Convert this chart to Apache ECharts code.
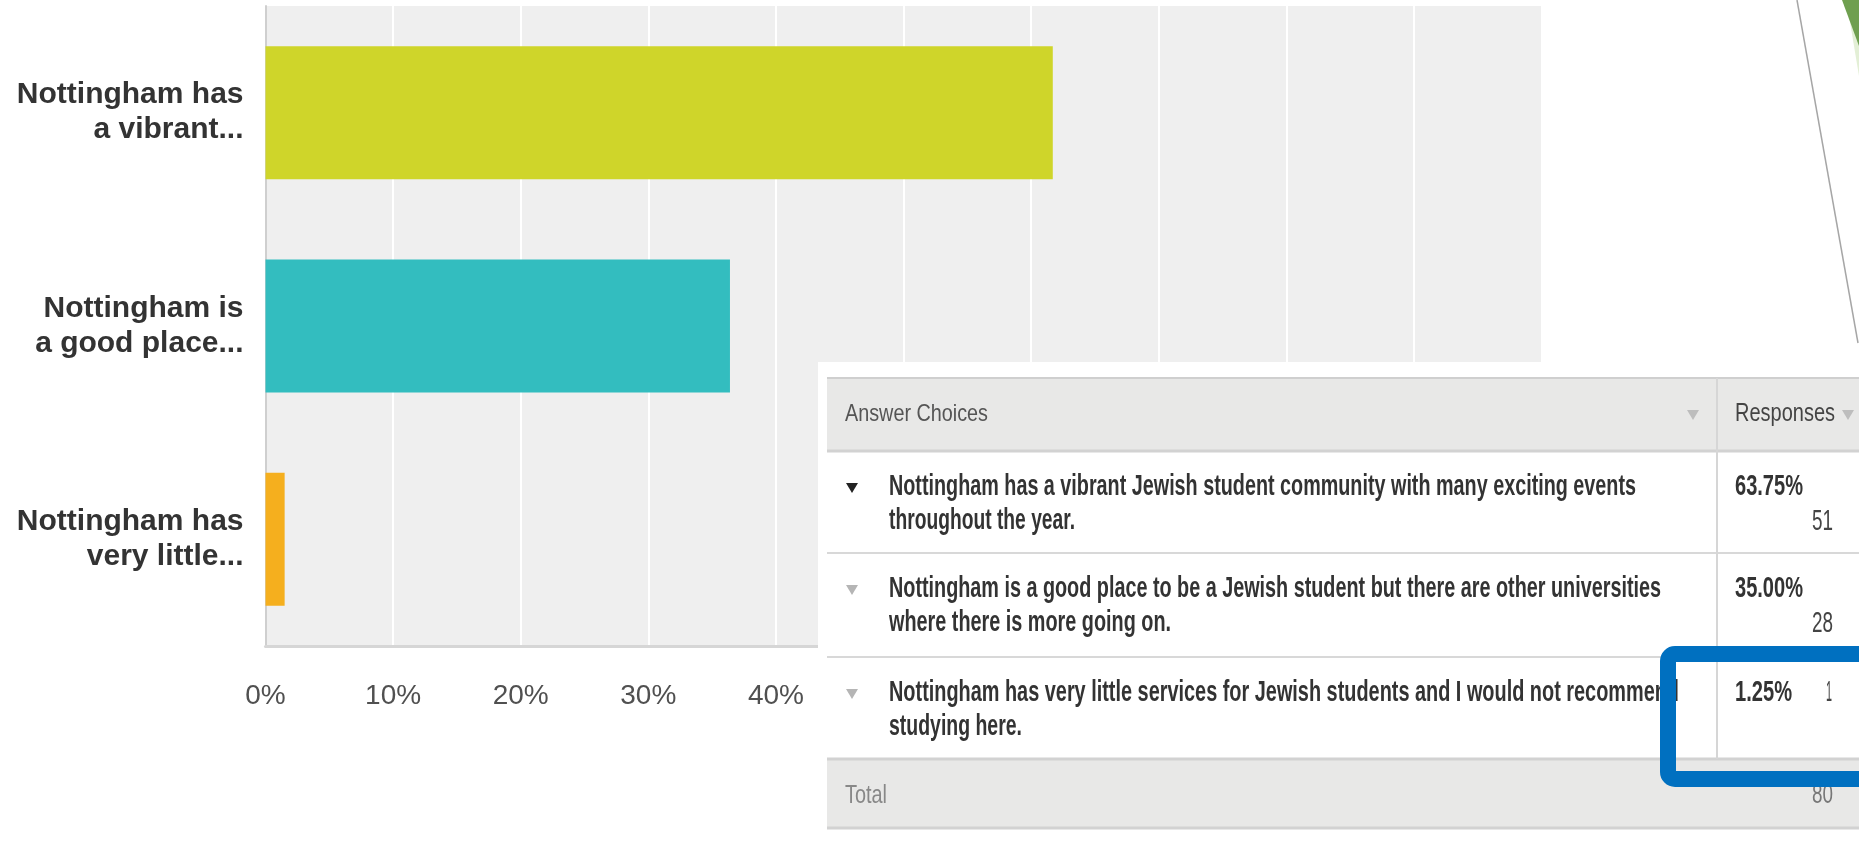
<!DOCTYPE html>
<html>
<head>
<meta charset="utf-8">
<script src="https://cdn.jsdelivr.net/npm/echarts@6/dist/echarts.min.js"></script>
<style>
html,body{margin:0;padding:0;background:#fff;}
#c{width:1859px;height:843px;}
</style>
</head>
<body>
<div id="c"></div>
<script>
// ---------- data ----------
const categories = ['Nottingham has\na vibrant...', 'Nottingham is\na good place...', 'Nottingham has\nvery little...'];
const barValues = [61.7, 36.4, 1.5];
const answerChoices = [
  ['Nottingham has a vibrant Jewish student community with many exciting events', 'throughout the year.'],
  ['Nottingham is a good place to be a Jewish student but there are other universities', 'where there is more going on.'],
  ['Nottingham has very little services for Jewish students and I would not recommend', 'studying here.']
];
const responsePercents = ['63.75%', '35.00%', '1.25%'];
const responseCounts = ['51', '28', '1'];
const totalCount = '80';
const headerLabels = ['Answer Choices', 'Responses'];
const totalLabel = 'Total';

// ---------- styles / layout ----------
const FONT = '"Liberation Sans", Arial, sans-serif';
const barColors = ['#cfd52a', '#33bdbf', '#f5af1e'];
const ctx = document.createElement('canvas').getContext('2d');

function fitText(text, x, baseline, size, color, width, align, weight) {
  const font = (weight || 'normal') + ' ' + size + 'px ' + FONT;
  ctx.font = font;
  const w = ctx.measureText(text).width;
  return {
    type: 'text', x: x, y: baseline - 0.35 * size, scaleX: width / w, z: 120,
    style: { text: text, font: font, fill: color, align: align || 'left', verticalAlign: 'middle' }
  };
}
function hline(y, x1, x2, color, w) {
  return { type: 'line', z: 110, shape: { x1: x1, y1: y, x2: x2, y2: y }, style: { stroke: color, lineWidth: w } };
}
function tri(cx, cy, color) {
  return { type: 'polygon', z: 120, shape: { points: [[cx - 6, cy - 5], [cx + 6, cy - 5], [cx, cy + 5]] }, style: { fill: color } };
}

const rowTops = [451, 553, 657];
const lineWidths = [[747, 186], [772, 282], [790, 133]];
const pctWidths = [68, 68, 57];
const countRight = [1833, 1833, 1832];
const countWidths = [21, 21, 6];
const ROW_WEIGHT = 'bold';
const ROW_COLOR = '#333';

const g = [];
// white panel behind the table
g.push({ type: 'rect', z: 100, shape: { x: 818, y: 362, width: 1041, height: 481 }, style: { fill: '#ffffff' } });
// header
g.push({ type: 'rect', z: 105, shape: { x: 827, y: 378, width: 1032, height: 73 }, style: { fill: '#e8e8e7' } });
g.push(hline(378, 827, 1859, '#cfcfcf', 2));
g.push(hline(451, 827, 1859, '#d2d2d2', 3));
g.push(hline(553, 827, 1859, '#d8d8d8', 2));
g.push(hline(657, 827, 1859, '#d8d8d8', 2));
// total row
g.push({ type: 'rect', z: 105, shape: { x: 827, y: 759, width: 1032, height: 69 }, style: { fill: '#e8e8e7' } });
g.push(hline(759, 827, 1859, '#d2d2d2', 3));
g.push(hline(828, 827, 1859, '#d2d2d2', 3));
// column divider
g.push({ type: 'line', z: 110, shape: { x1: 1717, y1: 378, x2: 1717, y2: 759 }, style: { stroke: '#d6d6d6', lineWidth: 2 } });
// header texts
g.push(fitText(headerLabels[0], 845, 423, 24, '#555', 143));
g.push(fitText(headerLabels[1], 1735, 423, 26, '#444', 100));
g.push(tri(1693, 415, '#bdbdbd'));
g.push(tri(1848, 415, '#bdbdbd'));
// rows
answerChoices.forEach(function (lines, i) {
  const base = rowTops[i] + 46;
  g.push(tri(852, rowTops[i] + 37, i === 0 ? '#222' : '#b5b5b5'));
  g.push(fitText(lines[0], 889, base, 29, ROW_COLOR, lineWidths[i][0], 'left', ROW_WEIGHT));
  g.push(fitText(lines[1], 889, base + 34, 29, ROW_COLOR, lineWidths[i][1], 'left', ROW_WEIGHT));
  g.push(fitText(responsePercents[i], 1735, base, 29, ROW_COLOR, pctWidths[i], 'left', ROW_WEIGHT));
  const cb = i === 2 ? base : base + 35;
  g.push(fitText(responseCounts[i], countRight[i], cb, 29, '#444', countWidths[i], 'right'));
});
// total row
g.push(fitText(totalLabel, 845, 805, 25, '#888', 42));
g.push(fitText(totalCount, 1833, 805, 27, '#777', 21, 'right'));
// blue highlight box
g.push({ type: 'rect', z: 200, shape: { x: 1668, y: 654, width: 260, height: 125, r: 7 }, style: { fill: 'transparent', stroke: '#0070c0', lineWidth: 16 } });
// slide decoration: thin line and green shape
g.push({ type: 'line', z: 90, shape: { x1: 1797, y1: 0, x2: 1858, y2: 343 }, style: { stroke: '#a6a6a6', lineWidth: 1.5 } });
g.push({ type: 'polygon', z: 90, shape: { points: [[1849, 16], [1859, 44], [1859, 76]] }, style: { fill: '#e3efd6' } });
g.push({ type: 'polygon', z: 91, shape: { points: [[1842, 0], [1859, 0], [1859, 46]] }, style: { fill: '#6f9f4f' } });

const chart = echarts.init(document.getElementById('c'), null, { renderer: 'canvas' });
chart.setOption({
  animation: false,
  backgroundColor: '#ffffff',
  grid: { left: 265.5, top: 6, width: 1276, height: 640, show: true, backgroundColor: '#efefef', borderWidth: 0, containLabel: false },
  xAxis: {
    type: 'value', min: 0, max: 100, interval: 10,
    axisLine: { show: true, lineStyle: { color: '#d6d6d6', width: 3 } },
    axisTick: { show: false },
    splitLine: { show: true, lineStyle: { color: '#ffffff', width: 2 } },
    axisLabel: { formatter: '{value}%', fontFamily: FONT, fontSize: 28, color: '#505050', margin: 36 }
  },
  yAxis: {
    type: 'category', inverse: true, data: categories,
    axisLine: { show: true, lineStyle: { color: '#cfcfcf', width: 2 } },
    axisTick: { show: false },
    splitLine: { show: false },
    axisLabel: { fontFamily: FONT, fontSize: 30, fontWeight: 'bold', color: '#333', lineHeight: 35, margin: 22, align: 'right' }
  },
  series: [{
    type: 'bar', barWidth: 133,
    data: barValues.map(function (v, i) { return { value: v, itemStyle: { color: barColors[i] } }; })
  }],
  graphic: { elements: g }
});
</script>
</body>
</html>
